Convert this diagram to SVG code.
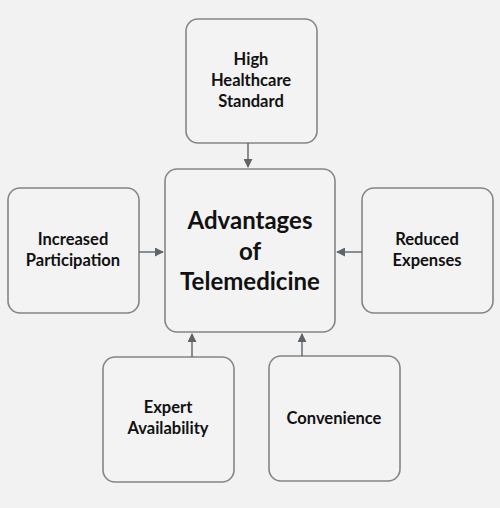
<svg xmlns="http://www.w3.org/2000/svg" width="500" height="508" viewBox="0 0 500 508">
<defs>
<marker id="ah" viewBox="0 0 10 10" refX="9" refY="5" markerWidth="9" markerHeight="9" markerUnits="userSpaceOnUse" orient="auto">
<path d="M0,0 L10,5 L0,10 Z" fill="#5f6468"/>
</marker>
<style>
.box{fill:#f3f3f3;stroke:#858585;stroke-width:1.6}
.t{font-family:Lato,"Open Sans","Liberation Sans",sans-serif;font-weight:bold;font-size:16.5px;fill:#111;text-anchor:middle}
.big{font-size:24px}
.c{stroke:#5f6468;stroke-width:1.4;fill:none;marker-end:url(#ah)}
</style>
</defs>
<rect width="500" height="508" fill="#f2f2f2"/>
<g id="center"><rect class="box" x="165" y="169" width="170" height="163" rx="12"/>
<text class="t big" x="250" y="229">Advantages</text><text class="t big" x="250" y="260">of</text><text class="t big" x="250" y="290">Telemedicine</text></g>
<g id="top"><rect class="box" x="186" y="19" width="131" height="124" rx="12"/>
<text class="t" x="251" y="65">High</text><text class="t" x="251" y="86">Healthcare</text><text class="t" x="251" y="107">Standard</text></g>
<g id="left"><rect class="box" x="8" y="188" width="131" height="125" rx="12"/>
<text class="t" x="73" y="245">Increased</text><text class="t" x="73" y="266">Participation</text></g>
<g id="right"><rect class="box" x="362" y="188" width="131" height="125" rx="12"/>
<text class="t" x="427" y="245">Reduced</text><text class="t" x="427" y="266">Expenses</text></g>
<g id="expert"><rect class="box" x="103" y="357" width="131" height="125" rx="12"/>
<text class="t" x="168" y="413">Expert</text><text class="t" x="168" y="434">Availability</text></g>
<g id="convenience"><rect class="box" x="269" y="356" width="131" height="125" rx="12"/>
<text class="t" x="334" y="424">Convenience</text></g>
<g id="connectors">
<line class="c" x1="248" y1="143" x2="248" y2="167"/>
<line class="c" x1="139" y1="252" x2="163" y2="252"/>
<line class="c" x1="362" y1="252" x2="337" y2="252"/>
<line class="c" x1="192" y1="357" x2="192" y2="334"/>
<line class="c" x1="302" y1="356" x2="302" y2="334"/>
</g>
</svg>
